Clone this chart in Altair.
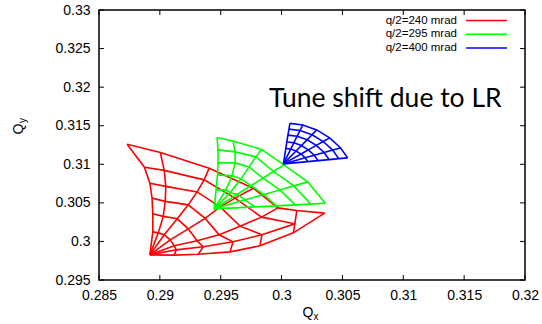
import altair as alt
import pandas as pd

# Tune footprints from long-range beam-beam: each footprint is a polar amplitude grid.
# Rows are amplitude rings (small -> large), columns are angle rays (vertical -> horizontal).
SERIES = ["q/2=240 mrad", "q/2=295 mrad", "q/2=400 mrad"]
COLORS = ["#ff0000", "#00ff00", "#0000ff"]

RED_ORIGIN = (0.28918, 0.29826)
RED_QX = [
    [0.28942, 0.28987, 0.29036, 0.29085, 0.29118, 0.29135, 0.29118],
    [0.28942, 0.29028, 0.29143, 0.29233, 0.29306, 0.29356, 0.29315],
    [0.28936, 0.29044, 0.29233, 0.29372, 0.29487, 0.29601, 0.29577],
    [0.28918, 0.29049, 0.29306, 0.29495, 0.29659, 0.29839, 0.29822],
    [0.28873, 0.29036, 0.29364, 0.29618, 0.29836, 0.30109, 0.30097],
    [0.28731, 0.29004, 0.29405, 0.29767, 0.29970, 0.30125, 0.30354],
]
RED_QY = [
    [0.30124, 0.30111, 0.30086, 0.30021, 0.29943, 0.29891, 0.29823],
    [0.30358, 0.30325, 0.30293, 0.30163, 0.30008, 0.29930, 0.29833],
    [0.30561, 0.30519, 0.30474, 0.30299, 0.30086, 0.29995, 0.29865],
    [0.30755, 0.30714, 0.30642, 0.30448, 0.30198, 0.30086, 0.29943],
    [0.30962, 0.30921, 0.30798, 0.30561, 0.30315, 0.30228, 0.30111],
    [0.31260, 0.31152, 0.30949, 0.30690, 0.30435, 0.30400, 0.30367],
]

GREEN_ORIGIN = (0.29446, 0.30422)
GREEN_QX = [
    [0.29462, 0.29544, 0.29577, 0.29634, 0.29699, 0.29781],
    [0.29474, 0.29593, 0.29667, 0.29749, 0.29855, 0.29957],
    [0.29478, 0.29618, 0.29732, 0.29847, 0.29986, 0.30112],
    [0.29478, 0.29618, 0.29790, 0.29933, 0.30101, 0.30240],
    [0.29470, 0.29601, 0.29835, 0.30019, 0.30215, 0.30359],
]
GREEN_QY = [
    [0.30668, 0.30668, 0.30630, 0.30610, 0.30539, 0.30448],
    [0.30863, 0.30850, 0.30811, 0.30724, 0.30608, 0.30461],
    [0.31018, 0.31018, 0.30966, 0.30821, 0.30668, 0.30474],
    [0.31187, 0.31161, 0.31096, 0.30907, 0.30720, 0.30484],
    [0.31348, 0.31303, 0.31193, 0.30992, 0.30772, 0.30494],
]

BLUE_ORIGIN = (0.30015, 0.31005)
BLUE_QX = [
    [0.30035, 0.30075, 0.30119, 0.30160, 0.30194, 0.30215],
    [0.30043, 0.30101, 0.30163, 0.30220, 0.30269, 0.30300],
    [0.30052, 0.30128, 0.30210, 0.30285, 0.30349, 0.30390],
    [0.30061, 0.30152, 0.30250, 0.30342, 0.30420, 0.30469],
    [0.30068, 0.30174, 0.30289, 0.30395, 0.30485, 0.30543],
]
BLUE_QY = [
    [0.31205, 0.31197, 0.31172, 0.31133, 0.31084, 0.31035],
    [0.31289, 0.31279, 0.31244, 0.31187, 0.31117, 0.31047],
    [0.31378, 0.31364, 0.31317, 0.31245, 0.31153, 0.31061],
    [0.31456, 0.31439, 0.31383, 0.31295, 0.31184, 0.31073],
    [0.31530, 0.31510, 0.31446, 0.31342, 0.31212, 0.31083],
]

X_TICKS = [0.285, 0.29, 0.295, 0.30, 0.305, 0.31, 0.315, 0.32]
Y_TICKS = [0.295, 0.30, 0.305, 0.31, 0.315, 0.32, 0.325, 0.33]
X_DOMAIN = [0.285, 0.32]
Y_DOMAIN = [0.295, 0.33]

W, H = 426, 270


def footprint_rows(name, origin, qx, qy):
    rows = []
    n_rings, n_rays = len(qx), len(qx[0])
    for k in range(n_rays):
        pts = [origin] + [(qx[i][k], qy[i][k]) for i in range(n_rings)]
        for j, (x, y) in enumerate(pts):
            rows.append({"series": name, "line": f"{name} ray {k}", "order": j, "Qx": x, "Qy": y})
    for i in range(n_rings):
        for k in range(n_rays):
            rows.append({"series": name, "line": f"{name} ring {i}", "order": k,
                         "Qx": qx[i][k], "Qy": qy[i][k]})
    return rows


rows = (footprint_rows(SERIES[0], RED_ORIGIN, RED_QX, RED_QY)
        + footprint_rows(SERIES[1], GREEN_ORIGIN, GREEN_QX, GREEN_QY)
        + footprint_rows(SERIES[2], BLUE_ORIGIN, BLUE_QX, BLUE_QY))
df = pd.DataFrame(rows)

FONT = "Liberation Sans"

xscale = alt.Scale(domain=X_DOMAIN, nice=False, zero=False)
yscale = alt.Scale(domain=Y_DOMAIN, nice=False, zero=False)
xaxis = alt.Axis(values=X_TICKS, format=".3~f", title=None, ticks=False, domain=False,
                 grid=False, labelPadding=8, labelFontSize=14, labelFont=FONT,
                 labelColor="black", labelFlush=False)
yaxis = alt.Axis(values=Y_TICKS, format=".3~f", title=None, ticks=False, domain=False,
                 grid=False, labelPadding=9, labelFontSize=14, labelFont=FONT,
                 labelColor="black", labelFlush=False)

mesh = alt.Chart(df).mark_line(strokeWidth=1.6, clip=True).encode(
    x=alt.X("Qx:Q", scale=xscale, axis=xaxis),
    y=alt.Y("Qy:Q", scale=yscale, axis=yaxis),
    color=alt.Color("series:N", scale=alt.Scale(domain=SERIES, range=COLORS), legend=None),
    detail="line:N",
    order="order:Q",
)

# inward, mirrored ticks on all four sides of the frame
xt = alt.Chart(pd.DataFrame({"Qx": X_TICKS}))
yt = alt.Chart(pd.DataFrame({"Qy": Y_TICKS}))
tick_style = dict(color="black", strokeWidth=1)
ticks = [
    xt.mark_rule(**tick_style).encode(x=alt.X("Qx:Q", scale=xscale, axis=xaxis),
                                      y=alt.value(H), y2=alt.value(H - 5)),
    xt.mark_rule(**tick_style).encode(x=alt.X("Qx:Q", scale=xscale, axis=xaxis),
                                      y=alt.value(0), y2=alt.value(5)),
    yt.mark_rule(**tick_style).encode(y=alt.Y("Qy:Q", scale=yscale, axis=yaxis),
                                      x=alt.value(0), x2=alt.value(5)),
    yt.mark_rule(**tick_style).encode(y=alt.Y("Qy:Q", scale=yscale, axis=yaxis),
                                      x=alt.value(W), x2=alt.value(W - 5)),
]

# key in the upper right corner
legend_layers = []
for i, (name, col) in enumerate(zip(SERIES, COLORS)):
    ly = 10.5 + 13.7 * i
    src = alt.Chart(pd.DataFrame({"label": [name]}))
    legend_layers.append(src.mark_text(align="right", baseline="middle", fontSize=11.5,
                                       font=FONT, color="black")
                         .encode(text="label:N", x=alt.value(358), y=alt.value(ly)))
    legend_layers.append(src.mark_rule(color=col, strokeWidth=1.5)
                         .encode(x=alt.value(367), x2=alt.value(408), y=alt.value(ly)))

note = alt.Chart(pd.DataFrame({"t": ["Tune shift due to LR"]})).mark_text(
    align="left", baseline="alphabetic", fontSize=26.5, font="Lato", color="black"
).encode(text="t:N", x=alt.value(170), y=alt.value(97))

# axis titles with subscripts
titles = alt.Chart(pd.DataFrame({"q": ["Q"], "sx": ["x"], "sy": ["y"]}))
title_layers = [
    titles.mark_text(fontSize=14, font=FONT, align="center", baseline="alphabetic", color="black")
    .encode(text="q:N", x=alt.value(209), y=alt.value(307)),
    titles.mark_text(fontSize=10, font=FONT, align="left", baseline="alphabetic", color="black")
    .encode(text="sx:N", x=alt.value(214.5), y=alt.value(310)),
    titles.mark_text(fontSize=14, font=FONT, align="center", baseline="alphabetic", color="black",
                     angle=270).encode(text="q:N", x=alt.value(-76), y=alt.value(119)),
    titles.mark_text(fontSize=10, font=FONT, align="left", baseline="alphabetic", color="black",
                     angle=270).encode(text="sy:N", x=alt.value(-73), y=alt.value(113)),
]

chart = alt.layer(mesh, *ticks, *legend_layers, note, *title_layers).properties(
    width=W, height=H, autosize="none",
    padding={"left": 99, "top": 10, "right": 17, "bottom": 44},
    background="white",
).configure_view(stroke="black", strokeWidth=1.5)

chart.save("out.html", embed_options={"renderer": "svg", "actions": False})
